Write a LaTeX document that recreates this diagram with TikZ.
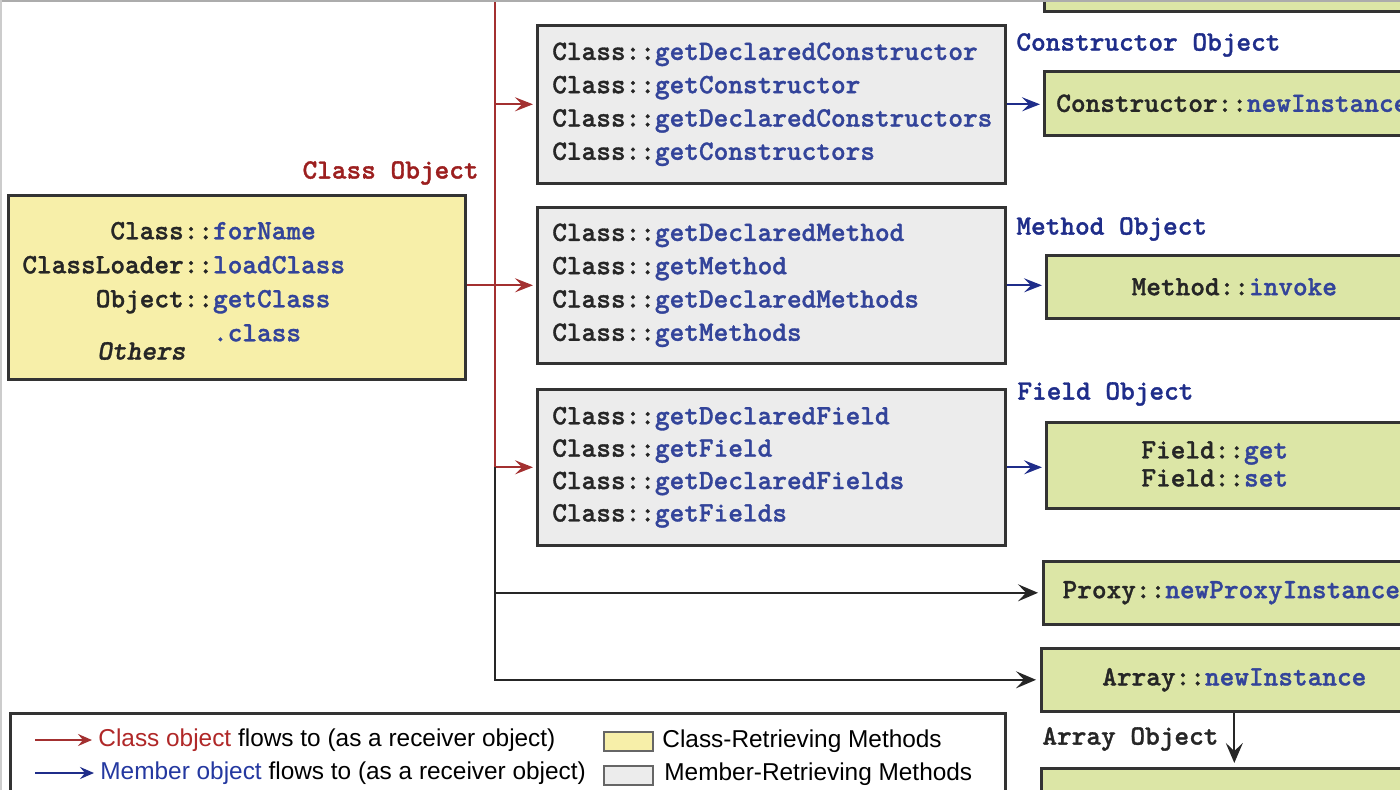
\documentclass[tikz,border=0pt]{standalone}
\usepackage{fontspec}
\setmainfont{Liberation Sans}
\newfontfamily\codefont{lmmonolt10-bold.otf}[FakeBold=1.2]
\newfontfamily\codeitfont{lmmonolt10-boldoblique.otf}[FakeBold=1.2]
\usetikzlibrary{arrows.meta,calc}
\definecolor{ClsRed}{HTML}{9C1F1F}
\definecolor{TrunkRed}{HTML}{A33030}
\definecolor{MbrBlue}{HTML}{1F2D8A}
\definecolor{NameBlue}{HTML}{33449A}
\definecolor{ClsFill}{HTML}{F7EFA9}
\definecolor{MbrFill}{HTML}{ECECEC}
\definecolor{OpFill}{HTML}{DCE6A6}
\definecolor{Edge}{HTML}{333333}
\definecolor{LgRed}{HTML}{B02828}
\definecolor{LgBlue}{HTML}{2438A0}

\newcommand{\mname}[1]{\textcolor{NameBlue}{#1}}

\tikzset{
  code/.style={font=\codefont\fontsize{13.97pt}{16.65pt}\selectfont, text=black!85},
  box/.style={draw=Edge, line width=1.3pt, anchor=north west, inner sep=0pt},
  clsbox/.style={box, fill=ClsFill},
  mbrbox/.style={box, fill=MbrFill, code, align=left, text width=219pt, inner xsep=7.5pt, minimum height=79pt},
  opbox/.style={box, fill=OpFill, code, minimum width=188pt, minimum height=32pt},
  objlabel/.style={code, anchor=west, inner sep=0pt},
  lgtext/.style={font=\fontsize{12.2pt}{14pt}\selectfont, anchor=west, inner sep=0pt},
  swatch/.style={draw=gray!80!black, line width=0.8pt, minimum width=24.5pt, minimum height=9.5pt, inner sep=0pt, anchor=north west},
  clsflow/.style={draw=TrunkRed, line width=1.1pt, shorten >=1.5pt, -{Stealth[length=9pt,width=7pt,inset=3.5pt]}},
  mbrflow/.style={draw=MbrBlue, line width=1.1pt, shorten >=1.5pt, -{Stealth[length=9pt,width=7pt,inset=3.5pt]}},
  plainflow/.style={draw=black!85, line width=1.1pt, shorten >=2pt, -{Stealth[length=10pt,width=8.5pt,inset=4pt]}},
}

\begin{document}
\begin{tikzpicture}[x=0.5pt,y=-0.5pt]
\useasboundingbox (0,0) rectangle (1400,790);
\clip (0,0) rectangle (1400,790);

% class-retrieving box
\node[clsbox, minimum width=228.5pt, minimum height=92pt] (clsbox) at (7,194) {};
\node[code, anchor=west, inner sep=0pt] (clsnames) at (22,283.5) {\fontsize{13.97pt}{17pt}\selectfont
  \begin{tabular}{@{}r@{}l@{}}
  Class::&\mname{forName}\\
  ClassLoader::&\mname{loadClass}\\
  Object::&\mname{getClass}\\
  &\mname{.class}
  \end{tabular}};
\node[code, anchor=west, inner sep=0pt, font=\codeitfont\fontsize{13.97pt}{16pt}\selectfont] (others) at (97,351) {Others};
\node[objlabel, anchor=east, text=ClsRed] (clsobj) at (479,173) {Class Object};

% member-retrieving boxes
\node[mbrbox] (ctorbox) at (536,24) {Class::\mname{getDeclaredConstructor}\\Class::\mname{getConstructor}\\Class::\mname{getDeclaredConstructors}\\Class::\mname{getConstructors}};
\node[mbrbox, minimum height=78pt] (methbox) at (536,206) {Class::\mname{getDeclaredMethod}\\Class::\mname{getMethod}\\Class::\mname{getDeclaredMethods}\\Class::\mname{getMethods}};
\node[mbrbox, minimum height=78pt, font=\codefont\fontsize{13.97pt}{16.2pt}\selectfont] (fldbox) at (536,388) {Class::\mname{getDeclaredField}\\Class::\mname{getField}\\Class::\mname{getDeclaredFields}\\Class::\mname{getFields}};

% member objects and their uses
\node[objlabel, text=MbrBlue] (ctorobj) at (1016,45) {Constructor Object};
\node[objlabel, text=MbrBlue] (methobj) at (1016,229) {Method Object};
\node[objlabel, text=MbrBlue] (fldobj) at (1017,394) {Field Object};
\node[opbox, minimum height=35pt] (topop) at (1043,-60) {};
\node[opbox] (ctorinst) at (1043,70) {Constructor::\mname{newInstance}};
\node[opbox, minimum height=31.5pt] (methinv) at (1045,254) {Method::\mname{invoke}};
\node[opbox, minimum height=43pt] (fldacc) at (1045,421) {};
\node[code, anchor=west, align=left, inner sep=0pt, font=\codefont\fontsize{13.97pt}{14pt}\selectfont] (fldops) at (1141,464) {Field::\mname{get}\\Field::\mname{set}};
\node[opbox, minimum height=31.5pt] (proxyinst) at (1042,560) {Proxy::\mname{newProxyInstance}};
\node[opbox, minimum width=193pt, minimum height=31.5pt] (arrinst) at (1040,647) {Array::\mname{newInstance}};
\node[objlabel] (arrobjlbl) at (1042,739) {Array Object};
\node[opbox, minimum width=193pt, minimum height=60pt] (arrobj) at (1040,767) {};

% flows
\coordinate (trunktop) at (495,-10);
\draw[draw=TrunkRed, line width=1pt] (trunktop) -- (trunktop |- fldbox.west);
\draw[clsflow] (trunktop |- ctorbox.west) -- (ctorbox.west);
\draw[clsflow] (clsbox.east |- methbox.west) -- (methbox.west);
\draw[clsflow] (trunktop |- fldbox.west) -- (fldbox.west);
\draw[plainflow] (trunktop |- proxyinst.west) -- (proxyinst.west);
\draw[plainflow] (trunktop |- fldbox.west) |- (arrinst.west);
\draw[mbrflow] (ctorbox.east) -- (ctorbox.east -| ctorinst.west);
\draw[mbrflow] (methbox.east) -- (methbox.east -| methinv.west);
\draw[mbrflow] (fldbox.east) -- (fldbox.east -| fldacc.west);
\draw[plainflow] (arrinst.south) -- (arrobj.north);

% legend
\node[box, fill=white, minimum width=497.5pt, minimum height=60pt] (legend) at (9,712) {};
\coordinate (lgclsA) at (35,740);
\coordinate (lgmbrA) at (35,773);
\node[lgtext] (lgcls) at (98,740) {\textcolor{LgRed}{Class object} flows to (as a receiver object)};
\node[lgtext] (lgmbr) at (100,773) {\textcolor{LgBlue}{Member object} flows to (as a receiver object)};
\draw[clsflow, shorten >=3pt, -{Stealth[length=7pt,width=6pt,inset=2.5pt]}] (lgclsA) -- (lgcls.west);
\draw[mbrflow, shorten >=3pt, -{Stealth[length=7pt,width=6pt,inset=2.5pt]}] (lgmbrA) -- (lgmbr.west);
\node[swatch, fill=ClsFill] (swcls) at (603,731) {};
\node[lgtext] (lgclsm) at (662,741) {Class-Retrieving Methods};
\node[swatch, fill=MbrFill] (swmbr) at (603,765) {};
\node[lgtext] (lgmbrm) at (664,774) {Member-Retrieving Methods};

% frame
\draw[gray!65, line width=1.5pt] (0,1) -- (1400,1);
\draw[gray!40, line width=1pt] (1,0) -- (1,790);
\end{tikzpicture}
\end{document}
